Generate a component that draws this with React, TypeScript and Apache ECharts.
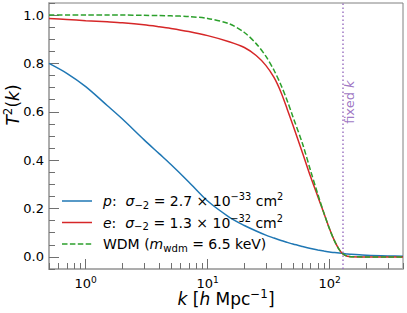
import React, { useEffect, useRef } from 'react';
import * as echarts from 'echarts';

// wavenumber grid k [h/Mpc]
const K = [0.5, 0.7, 1, 1.5, 2, 3, 4, 5, 7, 10, 15, 20, 25, 30, 35, 40, 45, 50, 60, 70, 80, 90, 100, 110, 120, 130, 140, 150, 200, 300, 400];
// p: sigma_-2 = 2.7e-33 cm^2
const T2_P = [0.800, 0.759, 0.704, 0.626, 0.570, 0.485, 0.427, 0.382, 0.310, 0.231, 0.165, 0.130, 0.107, 0.090, 0.078, 0.068, 0.060, 0.053, 0.043, 0.035, 0.029, 0.024, 0.020, 0.018, 0.016, 0.014, 0.012, 0.011, 0.007, 0.004, 0.003];
// e: sigma_-2 = 1.3e-32 cm^2
const T2_E = [0.986, 0.982, 0.977, 0.972, 0.968, 0.96, 0.952, 0.945, 0.932, 0.915, 0.89, 0.866, 0.833, 0.792, 0.742, 0.68, 0.61, 0.545, 0.43, 0.33, 0.25, 0.18, 0.115, 0.065, 0.03, 0.01, 0.003, 0.001, 0, 0, 0];
// WDM m = 6.5 keV
const T2_WDM = [1.0, 1.0, 1.0, 1.0, 1.0, 0.999, 0.998, 0.997, 0.994, 0.986, 0.964, 0.928, 0.882, 0.83, 0.772, 0.71, 0.645, 0.58, 0.468, 0.355, 0.26, 0.18, 0.115, 0.065, 0.03, 0.011, 0.003, 0.001, 0, 0, 0];

const FIXED_K = 130;
const FIXED_LABEL_T2 = 0.64;
const K_MIN = 0.5;
const K_MAX = 400;
const X_MAJOR = [1, 10, 100];
const X_MINOR = [0.5, 0.6, 0.7, 0.8, 0.9, 2, 3, 4, 5, 6, 7, 8, 9, 20, 30, 40, 50, 60, 70, 80, 90, 200, 300, 400];
const Y_MAJOR = [0, 0.2, 0.4, 0.6, 0.8, 1.0];
const Y_MINOR = [-0.05, 0.05, 0.1, 0.15, 0.25, 0.3, 0.35, 0.45, 0.5, 0.55, 0.65, 0.7, 0.75, 0.85, 0.9, 0.95, 1.05];

const FONT = 'DejaVu Sans';
const C_P = '#1f77b4';
const C_E = '#d62728';
const C_W = '#2ca02c';
const C_K = '#9467bd';

const lg = (v: number) => Math.log10(v);

const richLabel = (size: number) => ({
  i: { fontStyle: 'italic', fontSize: size, fontFamily: FONT, color: '#000' },
  sup: { fontSize: size * 0.7, fontFamily: FONT, color: '#000', padding: [0, 0, size * 0.6, 0] },
  sub: { fontSize: size * 0.7, fontFamily: FONT, color: '#000', padding: [size * 0.6, 0, 0, 0] },
});
const richGraphic = (size: number, fill: string) => ({
  i: { fontStyle: 'italic', fontSize: size, fontFamily: FONT, fill },
  sup: { fontSize: size * 0.7, fontFamily: FONT, fill, padding: [0, 0, size * 0.6, 0] },
  sub: { fontSize: size * 0.72, fontFamily: FONT, fill, padding: [size * 0.6, 0, 0, 0] },
});

export default function App() {
  const ref = useRef<HTMLDivElement>(null);
  useEffect(() => {
    if (!ref.current) return;
    const chart = echarts.init(ref.current, null, { renderer: 'svg' });
    const xmin = lg(K_MIN);
    const xmax = lg(K_MAX);
    const toPts = (arr: number[]) => K.map((k, i) => [lg(k), arr[i]]);
    const lineBase = { type: 'line', showSymbol: false, symbol: 'none', smooth: 0.3, xAxisIndex: 0, yAxisIndex: 0, silent: true };
    const legendRows = [
      { y: 201, color: C_P, dash: null, text: '{i|p}:  {i|σ}{sub|−2} = 2.7 × 10{sup|−33} cm{sup|2}' },
      { y: 222.5, color: C_E, dash: null, text: '{i|e}:  {i|σ}{sub|−2} = 1.3 × 10{sup|−32} cm{sup|2}' },
      { y: 244, color: C_W, dash: [5.5, 2.4], text: 'WDM ({i|m}{sub|wdm} = 6.5 keV)' },
    ];
    const graphic: any[] = [];
    legendRows.forEach((r, idx) => {
      graphic.push({
        id: 'lgl' + idx, type: 'line', shape: { x1: 62, y1: r.y, x2: 92, y2: r.y },
        style: { stroke: r.color, lineWidth: 1.5, lineDash: r.dash || undefined }, z: 100,
      });
      graphic.push({
        id: 'lgt' + idx, type: 'text', x: 103, y: r.y, z: 100,
        style: { text: r.text, fontSize: 14, fontFamily: FONT, fill: '#000', verticalAlign: 'middle', align: 'left', rich: richGraphic(14, '#000') },
      });
    });
    graphic.push({
      id: 'yname', type: 'text', x: 13, y: 105, rotation: Math.PI / 2, z: 100,
      style: { text: '{i|T}{sup|2}({i|k})', fontSize: 17, fontFamily: FONT, fill: '#000', align: 'center', verticalAlign: 'middle', rich: richGraphic(17, '#000') },
    });

    const axisLineX = { show: true, onZero: false, lineStyle: { color: '#adadad', width: 2 } };
    chart.setOption({
      animation: false,
      backgroundColor: '#fff',
      grid: {
        left: 49, right: 4, top: 3, bottom: 44, show: true, borderColor: '#808080', borderWidth: 1, backgroundColor: 'transparent',
        containLabel: false, outerBoundsMode: 'none',
      },
      xAxis: [
        {
          type: 'value', min: xmin, max: xmax, position: 'bottom',
          axisLine: axisLineX,
          axisTick: { show: true, inside: true, length: 10, customValues: X_MAJOR.map(lg), lineStyle: { color: '#707070', width: 1 } },
          axisLabel: {
            customValues: X_MAJOR.map(lg), margin: 6, fontSize: 13, fontFamily: FONT, color: '#000',
            formatter: (v: number) => '10{sup|' + Math.round(v) + '}', rich: richLabel(13),
          },
          splitLine: { show: false },
          name: '{i|k} [{i|h} Mpc{sup|−1}]', nameLocation: 'middle', nameGap: 19, nameMoveOverlap: false,
          nameTextStyle: { fontSize: 17, fontFamily: FONT, color: '#000', rich: richLabel(17) },
        },
        {
          type: 'value', min: xmin, max: xmax, position: 'bottom',
          axisLine: { show: false, onZero: false },
          axisTick: { show: true, inside: true, length: 6, customValues: X_MINOR.map(lg), lineStyle: { color: '#707070', width: 1 } },
          axisLabel: { show: false },
          splitLine: { show: false },
        },
      ],
      yAxis: [
        {
          type: 'value', min: -0.05, max: 1.05, position: 'left',
          axisLine: axisLineX,
          axisTick: { show: true, inside: true, length: 10, customValues: Y_MAJOR, lineStyle: { color: '#707070', width: 1 } },
          axisLabel: { customValues: Y_MAJOR, margin: 5, fontSize: 13, fontFamily: FONT, color: '#000', formatter: (v: number) => v.toFixed(1) },
          splitLine: { show: false },
        },
        {
          type: 'value', min: -0.05, max: 1.05, position: 'left',
          axisLine: { show: false, onZero: false },
          axisTick: { show: true, inside: true, length: 6, customValues: Y_MINOR, lineStyle: { color: '#707070', width: 1 } },
          axisLabel: { show: false },
          splitLine: { show: false },
        },
      ],
      series: [
        { ...lineBase, name: 'p', data: toPts(T2_P), lineStyle: { color: C_P, width: 1.5 }, z: 3 },
        { ...lineBase, name: 'e', data: toPts(T2_E), lineStyle: { color: C_E, width: 1.5 }, z: 4 },
        {
          ...lineBase, name: 'WDM', data: toPts(T2_WDM), lineStyle: { color: C_W, width: 1.5, type: [5.5, 2.4] }, z: 5,
          markLine: {
            silent: true, symbol: 'none', animation: false,
            label: { show: false },
            lineStyle: { color: C_K, width: 1.5, type: [1.5, 2.5], opacity: 0.9 },
            data: [{ xAxis: lg(FIXED_K) }],
          },
        },
      ],
      graphic,
    });
    const p = chart.convertToPixel({ gridIndex: 0 } as any, [lg(FIXED_K), FIXED_LABEL_T2]) as number[];
    chart.setOption({
      graphic: [{
        id: 'fixedk', type: 'text', x: p[0] + 6, y: p[1], rotation: Math.PI / 2, z: 100,
        style: {
          text: 'fixed {i|k}', fontSize: 13, fontFamily: FONT, fill: C_K, opacity: 0.9, align: 'center', verticalAlign: 'middle',
          rich: { i: { fontStyle: 'italic', fontSize: 13, fontFamily: FONT, fill: C_K } },
        },
      }],
    });
    return () => chart.dispose();
  }, []);
  return <div ref={ref} style={{ width: 407, height: 313, position: 'absolute', left: 0, top: 0 }} />;
}
